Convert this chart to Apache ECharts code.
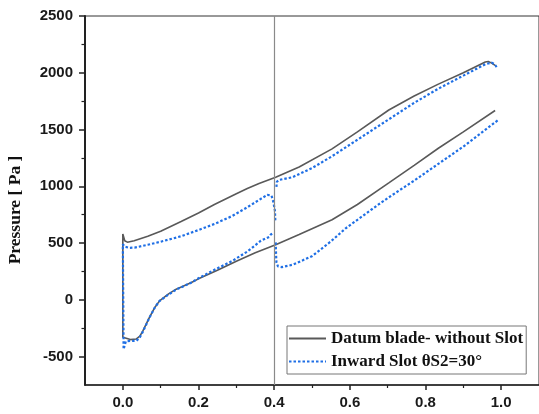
<!DOCTYPE html>
<html>
<head>
<meta charset="utf-8">
<script src="https://cdn.jsdelivr.net/npm/echarts@6/dist/echarts.min.js"></script>
<style>html,body{margin:0;padding:0;background:#fff}#c{width:539px;height:414px}</style>
</head>
<body>
<div id="c"></div>
<script>
const seriesNames = ['Datum blade- without Slot', 'Inward Slot θS2=30°'];
const xLabelValues = [0, 0.2, 0.4, 0.6, 0.8, 1.0];
const xMinorValues = [0.1, 0.3, 0.5, 0.7, 0.9];
const yLabelValues = [-500, 0, 500, 1000, 1500, 2000, 2500];
const yMinorValues = [-250, 250, 750, 1250, 1750, 2250];
const slotPosition = 0.404;

const datumUpperX = [0.000,0.005,0.012,0.030,0.066,0.100,0.154,0.200,0.242,0.300,0.329,0.360,0.404,0.466,0.553,0.620,0.703,0.770,0.834,0.900,0.958,0.966,0.975,0.984];
const datumUpperY = [580,521,508,520,560,605,690,765,840,935,980,1025,1080,1170,1330,1480,1672,1795,1900,2000,2095,2100,2085,2065];
const datumLowerX = [0.000,0.005,0.020,0.035,0.045,0.053,0.070,0.085,0.097,0.120,0.141,0.180,0.200,0.250,0.300,0.350,0.404,0.466,0.553,0.620,0.703,0.770,0.834,0.900,0.984];
const datumLowerY = [-330,-347,-350,-345,-320,-274,-156,-65,-9,50,94,150,185,260,340,415,485,575,705,840,1030,1185,1335,1480,1668];

const slotUpperFrontX = [0.000,0.005,0.018,0.031,0.066,0.100,0.154,0.200,0.242,0.290,0.329,0.360,0.382,0.388,0.393,0.398,0.402,0.403];
const slotUpperFrontY = [490,468,458,460,485,512,560,615,668,740,815,880,925,933,918,860,786,700];
const slotLowerFrontX = [0.002,0.008,0.020,0.036,0.045,0.053,0.070,0.085,0.097,0.120,0.141,0.180,0.200,0.246,0.290,0.329,0.365,0.387,0.391,0.395];
const slotLowerFrontY = [-435,-365,-362,-360,-330,-280,-160,-65,-10,45,90,150,190,271,344,425,521,555,575,583];
const slotUpperRearX = [0.406,0.407,0.413,0.448,0.500,0.553,0.620,0.703,0.770,0.834,0.900,0.958,0.975,0.983,0.988];
const slotUpperRearY = [995,1040,1056,1080,1160,1265,1410,1590,1735,1860,1975,2075,2089,2075,2050];
const slotLowerRearX = [0.404,0.405,0.406,0.410,0.420,0.450,0.500,0.550,0.589,0.624,0.676,0.703,0.770,0.834,0.900,0.993];
const slotLowerRearY = [506,400,330,295,288,310,385,515,630,715,840,903,1050,1198,1350,1586];

function pairs(xs, ys) { return xs.map((x, i) => [x, ys[i]]); }
const datumData = pairs(datumUpperX, datumUpperY).reverse().concat(pairs(datumLowerX, datumLowerY));
const slotData = pairs(slotUpperRearX, slotUpperRearY).reverse()
  .concat([[null, null]])
  .concat(pairs(slotUpperFrontX, slotUpperFrontY).reverse())
  .concat(pairs(slotLowerFrontX, slotLowerFrontY))
  .concat([[null, null]])
  .concat(pairs(slotLowerRearX, slotLowerRearY));

const tickFont = {fontFamily: '"Liberation Sans", Arial, sans-serif', fontWeight: 'bold', fontSize: 15, color: '#1a1a1a'};
const chart = echarts.init(document.getElementById('c'), null, {renderer: 'canvas'});
chart.setOption({
  animation: false,
  backgroundColor: '#fff',
  grid: {left: 85, right: -2, top: 16, bottom: 29, show: true, borderColor: '#333', borderWidth: 1},
  legend: {
    left: 287, top: 326, orient: 'vertical', itemWidth: 37, itemHeight: 10, itemGap: 6,
    padding: [4, 3, 4, 1], borderColor: '#777', borderWidth: 1, backgroundColor: '#fff',
    itemStyle: {opacity: 0},
    textStyle: {fontFamily: '"Liberation Serif", "Times New Roman", serif', fontWeight: 'bold', fontSize: 17, color: '#111'},
    data: seriesNames
  },
  xAxis: [{
    type: 'value', min: -0.1, max: 1.1, interval: 0.1, position: 'bottom',
    splitLine: {show: false},
    axisLine: {onZero: false, lineStyle: {color: '#222', width: 1.5}},
    axisTick: {customValues: xLabelValues, length: 5, lineStyle: {color: '#222', width: 1.5}},
    axisLabel: Object.assign({customValues: xLabelValues, margin: 10, formatter: v => v.toFixed(1)}, tickFont)
  }, {
    type: 'value', min: -0.1, max: 1.1, interval: 0.1, position: 'bottom', gridIndex: 0,
    splitLine: {show: false}, axisLine: {show: false, onZero: false},
    axisTick: {customValues: xMinorValues, length: 3, lineStyle: {color: '#222', width: 1.2}},
    axisLabel: {show: false}
  }],
  yAxis: [{
    type: 'value', min: -750, max: 2500, interval: 250, position: 'left',
    splitLine: {show: false},
    axisLine: {onZero: false, lineStyle: {color: '#222', width: 2}},
    axisTick: {customValues: yLabelValues, length: 6, lineStyle: {color: '#222', width: 1.5}},
    axisLabel: Object.assign({customValues: yLabelValues, margin: 12, formatter: v => String(v)}, tickFont)
  }, {
    type: 'value', min: -750, max: 2500, interval: 250, position: 'left',
    splitLine: {show: false}, axisLine: {show: false, onZero: false},
    axisTick: {customValues: yMinorValues, length: 3.5, lineStyle: {color: '#222', width: 1.2}},
    axisLabel: {show: false}
  }],
  graphic: [{
    type: 'text', x: 15, y: 210, rotation: Math.PI / 2,
    style: {text: 'Pressure [ Pa ]', fontFamily: '"Liberation Serif", "Times New Roman", serif', fontWeight: 'bold', fontSize: 17.5, fill: '#111', align: 'center', verticalAlign: 'middle'}
  }],
  series: [{
    name: seriesNames[0], type: 'line', data: datumData, xAxisIndex: 0, yAxisIndex: 0,
    showSymbol: false, symbol: 'none', connectNulls: false,
    lineStyle: {color: '#595959', width: 1.6},
    itemStyle: {color: '#595959'},
    markLine: {
      silent: true, symbol: 'none', label: {show: false},
      lineStyle: {color: '#8a8a8a', width: 1.2, type: 'solid'},
      data: [{xAxis: slotPosition}]
    },
    z: 2
  }, {
    name: seriesNames[1], type: 'line', data: slotData, xAxisIndex: 0, yAxisIndex: 0,
    showSymbol: false, symbol: 'none', connectNulls: false,
    lineStyle: {color: '#1f6fe5', width: 2.2, type: [2.5, 2]},
    itemStyle: {color: '#1f6fe5'},
    z: 3
  }]
});
</script>
</body>
</html>
